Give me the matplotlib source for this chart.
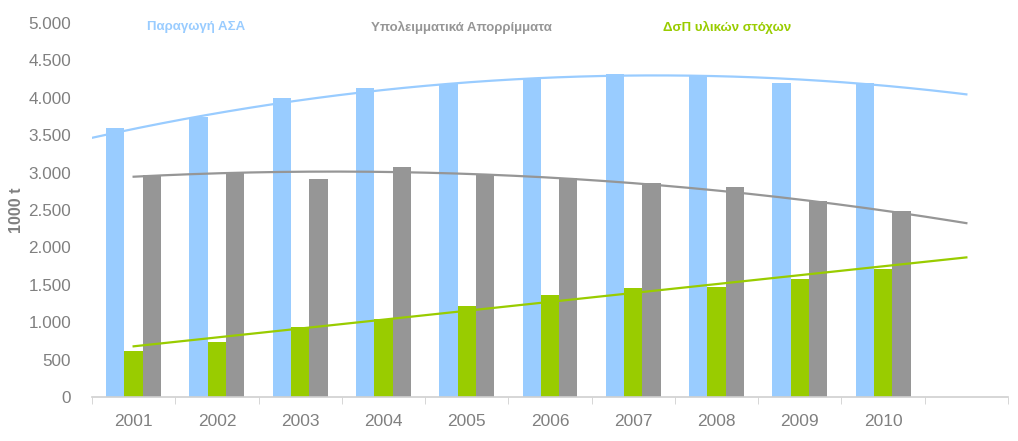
import numpy as np
import matplotlib.pyplot as plt

plt.rcParams['font.family'] = ['Liberation Sans', 'DejaVu Sans']

years = ['2001', '2002', '2003', '2004', '2005', '2006', '2007', '2008', '2009', '2010']
asa = [3600, 3740, 4000, 4130, 4185, 4270, 4315, 4290, 4195, 4195]
ypoleimmatika = [2970, 3000, 2910, 3080, 2975, 2925, 2855, 2805, 2620, 2485]
dsp = [620, 740, 940, 1045, 1215, 1365, 1455, 1465, 1575, 1705]

labels = ['Παραγωγή ΑΣΑ', 'Υπολειμματικά Απορρίμματα', 'ΔσΠ υλικών στόχων']
colors = ['#99CCFF', '#969696', '#99CC00']
tick_grey = '#808080'


def plot_chart(out_file):
	fig = plt.figure(figsize=(10.18, 4.41), dpi=100)
	ax = fig.add_axes([92 / 1018, 1 - 397 / 441, 916 / 1018, 374 / 441])

	x = np.arange(1, len(years) + 1)
	w = 0.22
	ax.bar(x - w, asa, w, color=colors[0], zorder=2)
	ax.bar(x, dsp, w, color=colors[2], zorder=2)
	ax.bar(x + w, ypoleimmatika, w, color=colors[1], zorder=2)

	# trendlines (excel style: 2nd order poly for first two, linear for last)
	p = np.polyfit(x, asa, 2)
	xs = np.linspace(0.5, 11, 200)
	ax.plot(xs, np.polyval(p, xs), color=colors[0], lw=1.6, zorder=3)
	p = np.polyfit(x, ypoleimmatika, 2)
	xs = np.linspace(1, 11, 200)
	ax.plot(xs, np.polyval(p, xs), color=colors[1], lw=1.6, zorder=3)
	p = np.polyfit(x, dsp, 1)
	ax.plot(xs, np.polyval(p, xs), color=colors[2], lw=1.6, zorder=3)

	ax.set_xlim(0.5, 11.5)
	ax.set_ylim(0, 5000)
	ax.set_yticks(np.arange(0, 5001, 500))
	ax.set_yticklabels([f'{v:,}'.replace(',', '.') for v in range(0, 5001, 500)])
	ax.set_xticks(x)
	ax.set_xticklabels(years)
	ax.set_xticks(np.arange(0.5, 12, 1), minor=True)
	ax.tick_params(axis='x', which='major', length=0, pad=12, labelsize=12.5, colors=tick_grey)
	ax.tick_params(axis='x', which='minor', length=5, color='#D0D0D0', direction='out')
	ax.tick_params(axis='y', length=0, pad=15, labelsize=12.3, colors=tick_grey)

	for s in ['top', 'right', 'left']:
		ax.spines[s].set_visible(False)
	ax.spines['bottom'].set_color('#D0D0D0')
	ax.spines['bottom'].set_linewidth(1.2)

	ax.set_ylabel('1000 t', fontsize=11.5, fontweight='bold', color=tick_grey, labelpad=3)

	for lab, c, xp in zip(labels, [colors[0], colors[1], colors[2]], [196, 461, 727]):
		fig.text(xp / 1018, 1 - 27 / 441, lab, color=c, fontsize=9.5, fontweight='bold',
			ha='center', va='center')

	fig.savefig(out_file, dpi=100)
	return fig


plot_chart('out.png')
